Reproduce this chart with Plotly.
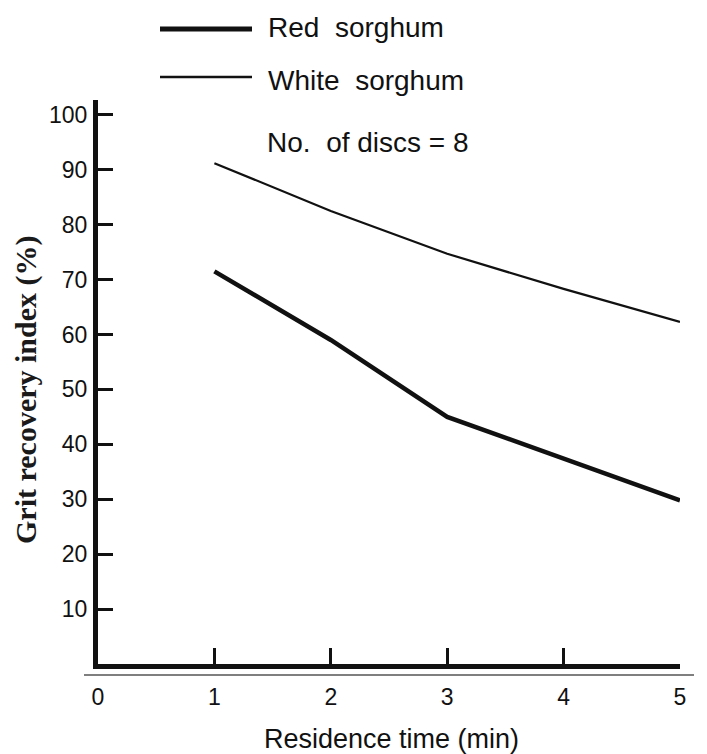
import plotly.graph_objects as go

# Data
residence_time = [1, 2, 3, 4, 5]
red_sorghum = [71.5, 59.0, 45.0, 37.5, 29.8]
white_sorghum = [91.2, 82.5, 74.7, 68.3, 62.3]
x_tick_vals = [0, 1, 2, 3, 4, 5]
y_tick_vals = [10, 20, 30, 40, 50, 60, 70, 80, 90, 100]

SANS = "Liberation Sans, Arial, sans-serif"
SERIF = "Liberation Serif, Times New Roman, serif"

fig = go.Figure()
fig.add_trace(go.Scatter(x=residence_time, y=white_sorghum, mode="lines",
                         line=dict(color="#111111", width=2.2), name="White sorghum",
                         showlegend=False, hoverinfo="skip"))
fig.add_trace(go.Scatter(x=residence_time, y=red_sorghum, mode="lines",
                         line=dict(color="#111111", width=4.5), name="Red sorghum",
                         showlegend=False, hoverinfo="skip"))

L, R, T, B = 98, 27, 100, 90
W, H = 707, 754
pw, ph = W - L - R, H - T - B

def px(xpix):
    return (xpix - L) / pw

def py(ypix):
    return 1 - (ypix - T) / ph

fig.update_layout(
    width=W, height=H,
    margin=dict(l=L, r=R, t=T, b=B, pad=0),
    paper_bgcolor="white", plot_bgcolor="white",
    showlegend=False,
    xaxis=dict(range=[0, 5], tickvals=x_tick_vals, ticktext=[str(v) for v in x_tick_vals],
               showgrid=False, zeroline=False, showline=True, linecolor="#111111", linewidth=5,
               ticks="inside", ticklen=16, tickwidth=2.5, tickcolor="#111111",
               tickfont=dict(family=SANS, size=23, color="#111111"),
               ticklabelstandoff=8),
    yaxis=dict(range=[0, 102.7], tickvals=y_tick_vals,
               showgrid=False, zeroline=False, showline=True, linecolor="#111111", linewidth=5,
               ticks="inside", ticklen=15, tickwidth=3, tickcolor="#111111",
               tickfont=dict(family=SANS, size=23, color="#111111"),
               ticklabelstandoff=1),
)

# thin baseline under the x axis
fig.add_shape(type="line", xref="paper", yref="paper",
              x0=px(84), x1=px(694), y0=py(675), y1=py(675),
              line=dict(color="#555555", width=1.3))

# legend lines
fig.add_shape(type="line", xref="paper", yref="paper",
              x0=px(160), x1=px(252), y0=py(29), y1=py(29),
              line=dict(color="#111111", width=5))
fig.add_shape(type="line", xref="paper", yref="paper",
              x0=px(160), x1=px(252), y0=py(77), y1=py(77),
              line=dict(color="#111111", width=2.5))

ann = dict(xref="paper", yref="paper", showarrow=False, xanchor="left", yanchor="middle",
           font=dict(family=SANS, size=28, color="#111111"))
fig.add_annotation(x=px(266), y=py(27), text="Red  sorghum", **ann)
fig.add_annotation(x=px(266), y=py(80), text="White  sorghum", **ann)
fig.add_annotation(x=px(265), y=py(142), text="No.  of discs = 8", **ann)

fig.add_annotation(x=px(391), y=py(739), xref="paper", yref="paper", showarrow=False,
                   xanchor="center", yanchor="middle", text="Residence time (min)",
                   font=dict(family=SANS, size=27, color="#111111"))
fig.add_annotation(x=px(26), y=py(390), xref="paper", yref="paper", showarrow=False,
                   xanchor="center", yanchor="middle", textangle=-90,
                   text="<b>Grit recovery index (%)</b>",
                   font=dict(family=SERIF, size=30, color="#1a1a1a"))

fig.write_html("out.html",
               config={"displayModeBar": False},
               post_script="document.body.style.margin='0';document.body.style.padding='0';"
                           "document.body.style.overflow='hidden';")
